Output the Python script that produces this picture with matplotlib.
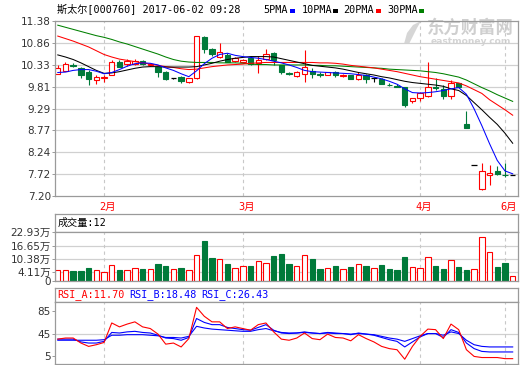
import matplotlib.pyplot as plt
from matplotlib.patches import Rectangle, Polygon
from matplotlib.transforms import blended_transform_factory

W, H = 520, 365

# daily bars, idx 0 = 2017-01-19 ... idx 59 = 2017-06-02
opens = [10.11, 10.19, 10.34, 10.25, 10.17, 9.97, 10.03, 10.09, 10.39, 10.35,
         10.36, 10.43, 10.32, 10.27, 10.17, 10.03, 10.05, 9.92, 10.01, 11.00,
         10.70, 10.53, 10.56, 10.42, 10.40, 10.50, 10.37, 10.48, 10.61, 10.33,
         10.14, 10.06, 10.11, 10.19, 10.12, 10.09, 10.17, 10.07, 10.08, 10.00,
         10.09, 10.03, 10.00, 9.86, 9.82, 9.80, 9.46, 9.55, 9.59, 9.81,
         9.75, 9.58, 9.89, 8.92, 7.95, 7.36, 7.71, 7.80, 7.70, 7.69]
highs = [10.33, 10.41, 10.38, 10.27, 10.20, 10.08, 10.10, 10.44, 10.46, 10.48,
         10.47, 10.45, 10.37, 10.29, 10.18, 10.03, 10.07, 10.03, 11.02, 11.03,
         10.73, 10.86, 10.61, 10.51, 10.48, 10.55, 10.55, 10.70, 10.63, 10.34,
         10.17, 10.18, 10.69, 10.25, 10.15, 10.17, 10.18, 10.12, 10.10, 10.15,
         10.11, 10.04, 10.01, 9.89, 9.87, 9.81, 9.55, 9.68, 10.41, 10.01,
         9.85, 9.98, 9.90, 9.22, 7.95, 7.99, 7.95, 7.91, 7.99, 7.69]
lows = [10.11, 10.19, 10.29, 10.03, 9.84, 9.88, 9.92, 10.08, 10.28, 10.31,
        10.33, 10.34, 10.30, 10.05, 9.96, 9.99, 9.91, 9.89, 10.00, 10.61,
        10.54, 10.49, 10.39, 10.41, 10.38, 10.34, 10.13, 10.46, 10.33, 10.11,
        10.08, 10.04, 9.93, 10.02, 10.05, 10.08, 10.05, 10.04, 9.99, 9.98,
        9.91, 9.92, 9.87, 9.82, 9.80, 9.33, 9.41, 9.46, 9.57, 9.74,
        9.51, 9.52, 9.80, 8.83, 7.95, 7.34, 7.47, 7.70, 7.66, 7.69]
closes = [10.25, 10.35, 10.31, 10.08, 9.99, 10.04, 10.05, 10.41, 10.29, 10.43,
          10.43, 10.36, 10.35, 10.17, 9.99, 10.03, 9.94, 10.01, 11.02, 10.70,
          10.58, 10.63, 10.40, 10.50, 10.45, 10.36, 10.44, 10.59, 10.45, 10.15,
          10.12, 10.16, 10.28, 10.11, 10.10, 10.16, 10.08, 10.09, 10.00, 10.09,
          9.99, 10.03, 9.88, 9.84, 9.80, 9.38, 9.54, 9.66, 9.80, 9.79,
          9.60, 9.91, 9.81, 8.83, 7.95, 7.79, 7.74, 7.73, 7.69, 7.69]

ma5 = [10.15, 10.16, 10.20, 10.22, 10.22, 10.18, 10.12, 10.15, 10.22, 10.30,
       10.36, 10.38, 10.37, 10.33, 10.26, 10.20, 10.12, 10.05, 10.19, 10.36,
       10.49, 10.58, 10.61, 10.56, 10.53, 10.51, 10.49, 10.46, 10.42, 10.38,
       10.33, 10.27, 10.20, 10.17, 10.16, 10.15, 10.14, 10.13, 10.12, 10.10,
       10.08, 10.04, 10.00, 9.94, 9.87, 9.76, 9.67, 9.66, 9.67, 9.69,
       9.72, 9.76, 9.79, 9.63, 9.28, 8.88, 8.45, 8.05, 7.80, 7.73]
ma10 = [10.57, 10.52, 10.46, 10.38, 10.29, 10.20, 10.13, 10.14, 10.17, 10.21,
        10.25, 10.28, 10.29, 10.29, 10.28, 10.28, 10.28, 10.28, 10.29, 10.33,
        10.37, 10.42, 10.46, 10.49, 10.51, 10.53, 10.53, 10.53, 10.52, 10.48,
        10.44, 10.40, 10.36, 10.32, 10.30, 10.28, 10.26, 10.23, 10.19, 10.15,
        10.12, 10.09, 10.05, 10.02, 9.98, 9.94, 9.91, 9.89, 9.87, 9.85,
        9.82, 9.76, 9.72, 9.60, 9.43, 9.26, 9.08, 8.91, 8.70, 8.46]
ma20 = [11.02, 10.96, 10.90, 10.83, 10.76, 10.67, 10.58, 10.52, 10.47, 10.44,
        10.41, 10.38, 10.35, 10.32, 10.29, 10.27, 10.24, 10.22, 10.23, 10.26,
        10.29, 10.31, 10.33, 10.34, 10.35, 10.37, 10.38, 10.39, 10.39, 10.39,
        10.39, 10.39, 10.39, 10.39, 10.38, 10.38, 10.37, 10.35, 10.32, 10.30,
        10.28, 10.26, 10.23, 10.20, 10.17, 10.13, 10.09, 10.05, 10.02, 9.99,
        9.96, 9.93, 9.90, 9.83, 9.74, 9.65, 9.50, 9.38, 9.26, 9.13]
ma30 = [11.28, 11.23, 11.18, 11.13, 11.08, 11.03, 10.99, 10.94, 10.88, 10.83,
        10.77, 10.71, 10.65, 10.59, 10.52, 10.46, 10.42, 10.40, 10.39, 10.39,
        10.39, 10.38, 10.38, 10.38, 10.37, 10.35, 10.34, 10.34, 10.33, 10.33,
        10.33, 10.33, 10.33, 10.32, 10.32, 10.31, 10.31, 10.30, 10.29, 10.28,
        10.27, 10.26, 10.25, 10.23, 10.22, 10.21, 10.20, 10.19, 10.17, 10.15,
        10.12, 10.08, 10.04, 9.97, 9.88, 9.79, 9.71, 9.62, 9.54, 9.46]

# volume in 万
vols = [5.2, 5.2, 4.5, 4.8, 6.1, 5.2, 4.3, 7.6, 5.2, 5.2,
        6.1, 5.8, 5.6, 8.0, 7.2, 5.6, 6.1, 5.2, 12.4, 18.8,
        11.0, 10.5, 8.2, 6.1, 7.1, 7.2, 9.5, 8.5, 11.6, 12.6,
        8.2, 7.1, 12.4, 10.6, 5.8, 6.1, 7.2, 5.6, 6.8, 8.0,
        7.2, 6.1, 7.7, 5.8, 5.3, 11.1, 6.5, 6.1, 11.4, 7.2,
        5.8, 10.0, 6.8, 5.3, 5.6, 20.6, 13.9, 6.8, 8.7, 2.3]

rsi_a = [35, 37, 37, 28, 22, 25, 29, 64, 57, 62,
         66, 57, 54, 44, 26, 28, 21, 36, 92, 76,
         66, 66, 54, 57, 54, 51, 61, 64, 48, 35,
         33, 37, 46, 36, 34, 44, 38, 37, 32, 43,
         36, 30, 22, 18, 16, -1, 22, 40, 53, 52,
         36, 62, 52, 16, 4, 2, 2, 2, 0, 0]
rsi_b = [35, 35, 35, 30, 28, 28, 31, 47, 46, 48,
         49, 47, 46, 42, 37, 36, 33, 38, 72, 65,
         61, 61, 56, 54, 52, 51, 56, 61, 51, 46,
         45, 46, 48, 46, 45, 47, 46, 45, 43, 46,
         44, 42, 38, 34, 31, 21, 30, 39, 45, 45,
         38, 52, 47, 28, 18, 13, 12, 12, 12, 12]
rsi_c = [33, 33, 33, 33, 33, 33, 34, 42, 42, 43,
         43, 43, 42, 41, 38, 38, 37, 40, 58, 55,
         53, 52, 51, 50, 49, 49, 52, 54, 50, 47,
         46, 46, 47, 46, 45, 46, 45, 45, 44, 45,
         44, 43, 40, 37, 35, 31, 36, 41, 45, 45,
         42, 48, 45, 33, 25, 22, 21, 21, 21, 21]
rsi_last = [11.70, 18.48, 26.43]

price_ticks = [7.20, 7.72, 8.24, 8.77, 9.29, 9.81, 10.33, 10.86, 11.38]
vol_ticks = [0, 4.11, 10.38, 16.65, 22.93]
vol_labels = ['0', '4.11万', '10.38万', '16.65万', '22.93万']
rsi_ticks = [5, 45, 85]
month_idx = [6, 24, 47, 58]
month_labels = ['2月', '3月', '4月', '6月']
ma_names = ['5PMA', '10PMA', '20PMA', '30PMA']

RED, GREEN, BLUE = '#ff0000', '#007a3a', '#0000ff'
FRAME, GRID, TXT = '#9a9a9a', '#d0d0d0', '#333333'
MONO = ['DejaVu Sans Mono', 'Noto Sans CJK SC']
plt.rcParams['font.family'] = ['DejaVu Sans', 'Noto Sans CJK SC']

fig = plt.figure(figsize=(W / 100, H / 100), dpi=100)


def box(l, t, r, b):
    return [l / W, 1 - b / H, (r - l) / W, (b - t) / H]


def fpos(x, y):
    return x / W, 1 - y / H


def frame(ax):
    for s in ax.spines.values():
        s.set_color(FRAME)
        s.set_linewidth(0.9)
    ax.set_xticks([])
    ax.tick_params(axis='y', length=2, width=0.7, color=FRAME, pad=1,
                   labelsize=7.5, labelcolor=TXT)


n = len(closes)
xlim = (-0.36, n - 0.31)
bw = 0.7

# ---- price panel
ax = fig.add_axes(box(55, 21, 518, 196))
frame(ax)
ax.set_xlim(*xlim)
ax.set_ylim(price_ticks[0], price_ticks[-1])
ax.set_yticks(price_ticks)
ax.set_yticklabels([f'{t:.2f}' for t in price_ticks])
for t in price_ticks[1:-1]:
    ax.axhline(t, color=GRID, lw=0.9, zorder=0.6)
for i in month_idx:
    ax.axvline(i, color='#c8c8c8', lw=0.8, ls=(0, (3, 3)), zorder=0.6)

# watermark
ax.add_patch(Polygon([fpos(*p) for p in [(404, 44), (407, 33), (413, 25), (421, 21),
                                          (417, 28), (413, 36), (409, 44)]],
                     closed=True, facecolor='#d6d6d6', edgecolor='none',
                     transform=fig.transFigure, zorder=0.5))
ax.text(*fpos(470, 28), '东方财富网', transform=fig.transFigure, ha='center',
        va='center', fontsize=12.5, fontweight='bold', color='#cfcfcf',
        family='Noto Sans CJK SC', zorder=0.5)
ax.text(*fpos(471, 41.5), 'eastmoney.com', transform=fig.transFigure,
        ha='center', va='center', fontsize=6.6, fontweight='bold',
        color='#d4d4d4', zorder=0.5)

for i, (o, h, l, c) in enumerate(zip(opens, highs, lows, closes)):
    lo, hi = min(o, c), max(o, c)
    if c > o:
        ax.vlines(i, hi, h, color=RED, lw=0.8, zorder=2)
        ax.vlines(i, l, lo, color=RED, lw=0.8, zorder=2)
        ax.add_patch(Rectangle((i - bw / 2, lo), bw, hi - lo, facecolor='white',
                               edgecolor=RED, lw=0.8, zorder=2))
    elif c < o:
        ax.vlines(i, l, h, color=GREEN, lw=0.8, zorder=2)
        ax.add_patch(Rectangle((i - bw / 2, lo), bw, hi - lo, facecolor=GREEN,
                               edgecolor=GREEN, lw=0.8, zorder=2))
    else:
        if h > l:
            ax.vlines(i, l, h, color='black', lw=0.8, zorder=2)
        ax.hlines(o, i - bw / 2, i + bw / 2, color='black', lw=0.9, zorder=2)

idx = list(range(n))
for ma, col in zip([ma30, ma20, ma10, ma5], ['#008000', RED, 'black', BLUE]):
    ax.plot(idx, ma, color=col, lw=0.75, zorder=3)

trans = blended_transform_factory(ax.transData, ax.transAxes)
for i, lab in zip(month_idx, month_labels):
    ax.text(i + 0.5, -0.06, lab, transform=trans, ha='center', va='center',
            color=RED, fontsize=7.5, family=MONO)

# title + legend
fig.text(*fpos(57, 10), '斯太尔[000760] 2017-06-02 09:28', family=MONO,
         fontsize=7.3, va='center', color='black')
for name, col, tx, sx in zip(ma_names, [BLUE, 'black', RED, '#008000'],
                             [263, 302, 343, 387], [290, 333, 376, 419]):
    fig.text(*fpos(tx, 10), name, family=MONO, fontsize=7.3, va='center')
    fig.patches.append(Rectangle(fpos(sx, 13), 5 / W, 4 / H, facecolor=col,
                                 edgecolor='none', transform=fig.transFigure))

# ---- volume panel
axh = fig.add_axes(box(55, 214, 518, 232))
frame(axh)
axh.set_yticks([])
axh.text(*fpos(58, 222.5), '成交量:12', transform=fig.transFigure, family=MONO,
         fontsize=7.3, va='center')

axv = fig.add_axes(box(55, 232, 518, 281))
frame(axv)
axv.set_xlim(*xlim)
axv.set_ylim(0, 23.1)
axv.set_yticks(vol_ticks)
axv.set_yticklabels(vol_labels)
for t in vol_ticks[1:-1]:
    axv.axhline(t, color=GRID, lw=0.9, zorder=0.6)
for i in month_idx:
    axv.axvline(i, color='#c8c8c8', lw=0.8, ls=(0, (3, 3)), zorder=0.6)
for i, (o, c, v) in enumerate(zip(opens, closes, vols)):
    if c >= o:
        axv.add_patch(Rectangle((i - bw / 2, 0), bw, v, facecolor='white',
                                edgecolor=RED, lw=0.8, zorder=2))
    else:
        axv.add_patch(Rectangle((i - bw / 2, 0), bw, v, facecolor=GREEN,
                                edgecolor=GREEN, lw=0.8, zorder=2))

# ---- RSI panel
axrh = fig.add_axes(box(55, 287.5, 518, 302))
frame(axrh)
axrh.set_yticks([])
for name, val, col, tx in zip(['RSI_A', 'RSI_B', 'RSI_C'], rsi_last,
                              [RED, BLUE, BLUE], [57, 129, 201]):
    fig.text(*fpos(tx, 294.5), f'{name}:{val:.2f}', family=MONO, fontsize=7.3,
             va='center', color=col)

axr = fig.add_axes(box(55, 302, 518, 363.5))
frame(axr)
axr.set_xlim(*xlim)
axr.set_ylim(-8.7, 101.6)
axr.set_yticks(rsi_ticks)
axr.axhline(45, color=GRID, lw=0.9, zorder=0.6)
for i in month_idx:
    axr.axvline(i, color='#c8c8c8', lw=0.8, ls=(0, (3, 3)), zorder=0.6)
axr.plot(idx, rsi_c, color=BLUE, lw=0.8, zorder=3)
axr.plot(idx, rsi_b, color=BLUE, lw=0.8, zorder=3)
axr.plot(idx, rsi_a, color=RED, lw=0.8, zorder=3)

fig.savefig('out.png', dpi=100)
